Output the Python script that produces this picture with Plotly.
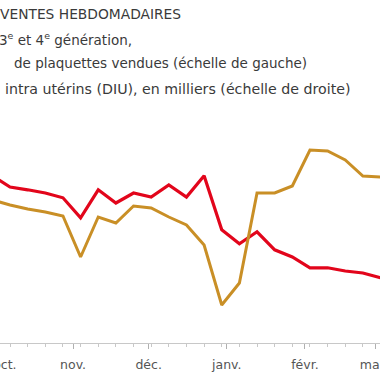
import plotly.graph_objects as go

# Weekly dates (categories)
dates = ["2012-09-30", "2012-10-07", "2012-10-14", "2012-10-21", "2012-10-28",
         "2012-11-04", "2012-11-11", "2012-11-18", "2012-11-25",
         "2012-12-02", "2012-12-09", "2012-12-16", "2012-12-23", "2012-12-30",
         "2013-01-06", "2013-01-13", "2013-01-20", "2013-01-27",
         "2013-02-03", "2013-02-10", "2013-02-17", "2013-02-24", "2013-03-03"]

# Pills 3rd & 4th generation, plaquettes sold (thousands, left scale)
pilules = [418, 390, 383, 375, 363, 313, 383, 350, 375, 365, 395, 365, 418,
           283, 248, 278, 233, 215, 188, 188, 180, 175, 163]

# IUD (DIU), thousands (right scale)
diu = [14.3, 13.8, 13.4, 13.1, 12.7, 8.6, 12.6, 12.0, 13.7, 13.5, 12.6, 11.8,
       9.8, 3.8, 6.0, 15.0, 15.0, 15.7, 19.3, 19.2, 18.3, 16.7, 16.6]

month_ticks = ["2012-10-01", "2012-11-01", "2012-12-01", "2013-01-01",
               "2013-02-01", "2013-03-01"]
month_labels = ["\u00a0\u00a0\u00a0\u00a0\u00a0oct.", "nov.", "déc.", "janv.",
                "févr.", "mars"]

RED = "#e2051b"
GOLD = "#c98f26"
TXT = "#3a3a3a"

fig = go.Figure()
fig.add_trace(go.Scatter(x=dates, y=diu, mode="lines", yaxis="y2",
                         line=dict(color=GOLD, width=3), showlegend=False))
fig.add_trace(go.Scatter(x=dates, y=pilules, mode="lines", yaxis="y",
                         line=dict(color=RED, width=3.2), showlegend=False))

OFF = 20            # part of the figure hidden past the left window edge
FW, H = 380 + OFF, 380
top, bottom = 103, 343
ph = bottom - top


def py(pix):
    return (bottom - pix) / ph


def px(wx):
    return (wx + OFF) / FW


font_body = "DejaVu Sans, Verdana, sans-serif"
annots = [
    dict(text="VENTES HEBDOMADAIRES", x=px(-2), y=py(14), size=13.8),
    dict(text="3<sup>e</sup> et 4<sup>e</sup> génération,", x=px(-3), y=py(39), size=13.5),
    dict(text="de plaquettes vendues (échelle de gauche)", x=px(12), y=py(63), size=13.5),
    dict(text="intra utérins (DIU), en milliers (échelle de droite)", x=px(3), y=py(89), size=14.2),
]

fig.update_layout(
    width=FW, height=H,
    margin=dict(l=0, r=0, t=top, b=H - bottom, autoexpand=False),
    paper_bgcolor="white", plot_bgcolor="white",
    xaxis=dict(
        type="date", automargin=False,
        range=["2012-09-25 02:00", "2013-03-02 19:00"],
        tickvals=month_ticks, ticktext=month_labels,
        ticks="outside", ticklen=5, tickcolor="#b0b0b0", tickwidth=1,
        showline=True, linecolor="#c8c8c8", linewidth=1,
        showgrid=False, zeroline=False, ticklabeloverflow="allow",
        ticklabelstandoff=5,
        tickfont=dict(family=font_body, size=12.5, color="#555555"),
        minor=dict(ticks="outside", ticklen=3, tickcolor="#c8c8c8",
                   dtick=7 * 24 * 3600 * 1000, tick0="2012-09-30", showgrid=False),
    ),
    yaxis=dict(range=[0, 600], visible=False, automargin=False),
    yaxis2=dict(range=[0, 24], visible=False, overlaying="y", side="right",
                automargin=False),
    annotations=[dict(text=a["text"], x=a["x"], y=a["y"], xref="paper", yref="paper",
                      xanchor="left", yanchor="middle", showarrow=False,
                      font=dict(family=font_body, size=a["size"], color=TXT))
                 for a in annots],
)

fig.write_html(
    "out.html",
    config={"displayModeBar": False},
    post_script="document.body.style.margin='0px 0px 0px -%dpx';"
                "document.body.style.overflow='hidden';" % OFF,
)
